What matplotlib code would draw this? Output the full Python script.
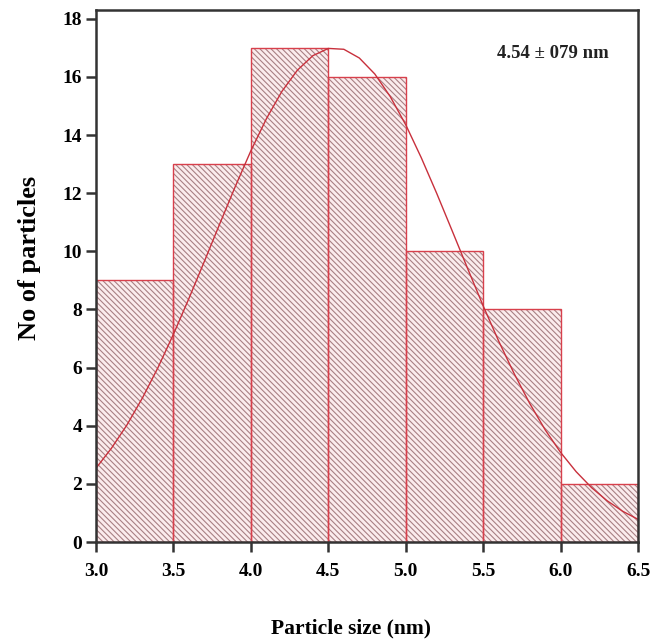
import matplotlib.pyplot as plt

# histogram bins (nm) and counts
bin_left = [3.0, 3.5, 4.0, 4.5, 5.0, 5.5, 6.0]
counts = [9, 13, 17, 16, 10, 8, 2]
bin_width = 0.5

# fitted size-distribution curve
curve_x = [3.0, 3.1, 3.2, 3.3, 3.4, 3.5, 3.6, 3.7, 3.8, 3.9, 4.0, 4.1, 4.2,
           4.3, 4.4, 4.5, 4.6, 4.7, 4.8, 4.9, 5.0, 5.1, 5.2, 5.3, 5.4, 5.5,
           5.6, 5.7, 5.8, 5.9, 6.0, 6.1, 6.2, 6.3, 6.4, 6.5]
curve_y = [2.54, 3.23, 4.03, 4.96, 6.00, 7.15, 8.38, 9.66, 10.96, 12.24,
           13.46, 14.56, 15.50, 16.23, 16.73, 16.98, 16.95, 16.65, 16.10,
           15.32, 14.35, 13.22, 11.99, 10.70, 9.40, 8.12, 6.91, 5.79, 4.77,
           3.86, 3.08, 2.42, 1.87, 1.42, 1.06, 0.78]

xticks = [3.0, 3.5, 4.0, 4.5, 5.0, 5.5, 6.0, 6.5]
yticks = [0, 2, 4, 6, 8, 10, 12, 14, 16, 18]

plt.rcParams['font.family'] = ['Liberation Serif', 'DejaVu Serif']
plt.rcParams['font.weight'] = 'bold'
plt.rcParams['hatch.linewidth'] = 0.8

fig = plt.figure(figsize=(6.64, 6.43), dpi=100)
ax = fig.add_axes([0.1446, 0.157, 0.8164, 0.8274])

# hatch layer then red outlines
ax.bar(bin_left, counts, width=bin_width, align='edge', color='#fbeced',
       edgecolor='#a88084', hatch='\\\\\\\\\\\\', linewidth=0, zorder=2)
ax.bar(bin_left, counts, width=bin_width, align='edge', fill=False,
       edgecolor='#d8404c', linewidth=1.0, zorder=3)

ax.plot(curve_x, curve_y, color='#c8303c', linewidth=1.0, zorder=4)

ax.set_xlim(3.0, 6.5)
ax.set_ylim(0, 18.3)
ax.set_xticks(xticks)
ax.set_xticklabels(['%.1f' % t for t in xticks])
ax.set_yticks(yticks)

for s in ax.spines.values():
    s.set_linewidth(1.8)
    s.set_color('#333333')
    s.set_zorder(5)

ax.tick_params(direction='out', length=7, width=1.8, color='#333333',
               labelsize=14)
ax.tick_params(axis='x', pad=8)
ax.tick_params(axis='y', pad=3)

ax.set_xlabel('Particle size (nm)', fontsize=15.5, fontweight='bold')
ax.xaxis.set_label_coords(0.47, -0.143)
ax.set_ylabel('No of particles', fontsize=19, fontweight='bold')
ax.yaxis.set_label_coords(-0.101, 0.534)

ax.text(0.946, 0.919, '4.54 ± 079 nm', transform=ax.transAxes, ha='right',
        va='center', fontsize=13.5, fontweight='bold', color='#222222')

fig.savefig('out.png', dpi=100)
